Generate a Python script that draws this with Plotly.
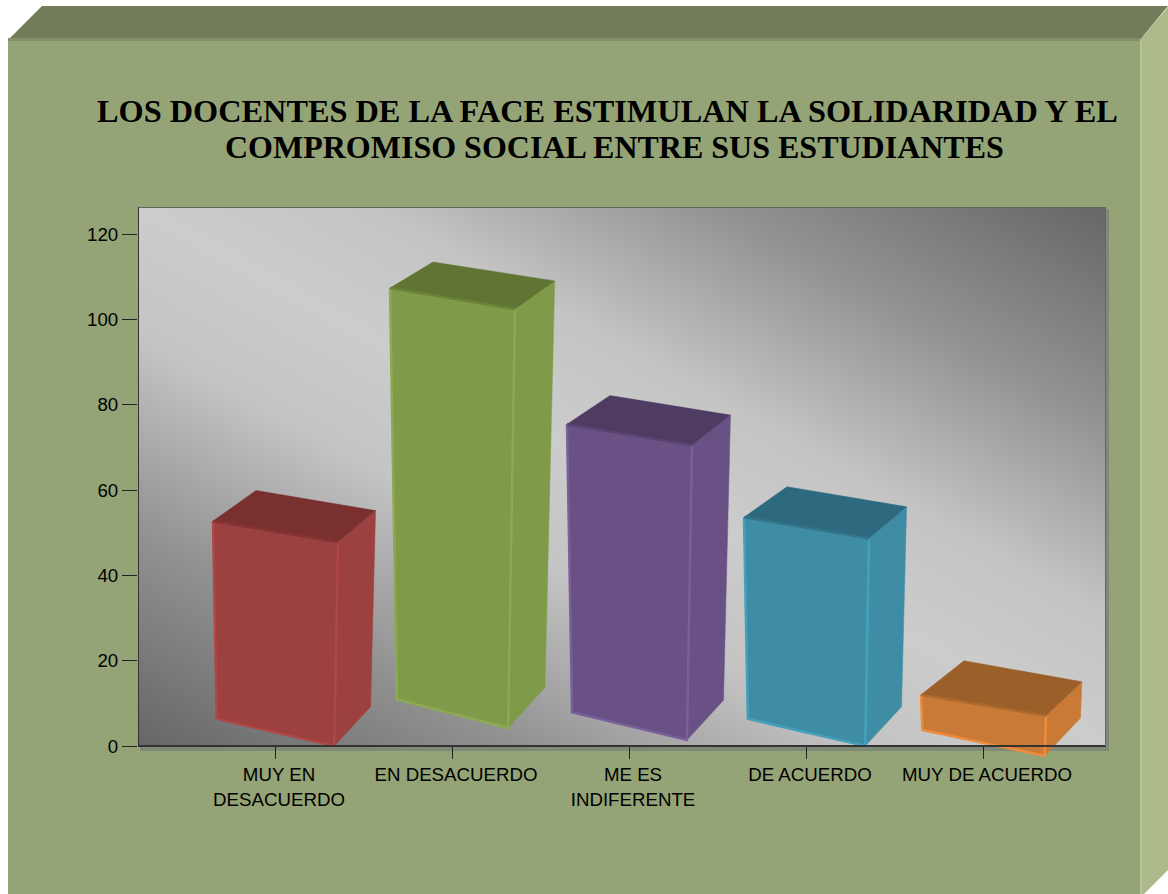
import base64
import plotly.graph_objects as go

# ---- data ----
categories = ["MUY EN<br>DESACUERDO", "EN DESACUERDO", "ME ES<br>INDIFERENTE", "DE ACUERDO", "MUY DE ACUERDO"]
values = [47.8, 98.2, 69.1, 48.7, 9.4]          # column height
floor_shift = [0.0, 4.2, 1.4, 0.0, -2.3]        # apparent lift of each column's foot in the tilted view
y_ticks = [0, 20, 40, 60, 80, 100, 120]
front_colors = ["#9C413F", "#7F9A48", "#695185", "#3F8CA5", "#C97A37"]
edge_colors = ["#AE4846", "#8DAA50", "#7A5F9A", "#45A0BC", "#EE8B3C"]
top_colors = ["#79302E", "#607433", "#4F3C63", "#2E6A7F", "#9B5F2A"]
lip_colors = ["#843533", "#6C823B", "#5A446F", "#337488", "#AD6A2E"]
title_lines = ["LOS DOCENTES DE LA FACE ESTIMULAN LA SOLIDARIDAD Y EL",
               "COMPROMISO SOCIAL ENTRE SUS ESTUDIANTES"]

W, H = 1168, 894
L, R, T, B = 138, 1106, 207, 746
EXTRA = 14      # plot area runs a little below zero so the lowest foot is not clipped
XU = 177.0      # px per category
YU = (746 - 234) / 120.0   # px per value unit
X0 = -(275 - L) / XU
X1 = X0 + (R - L) / XU
Y1 = (B - T) / YU
YLOW = -EXTRA / YU
PH = B + EXTRA - T


def px(p):
    return p / XU


def py(p):
    return p / YU


fig = go.Figure()


def face(xs, ys, fill, line=None, width=0):
    fig.add_trace(go.Scatter(
        x=xs + xs[:1], y=ys + ys[:1], mode="lines", fill="toself", fillcolor=fill,
        line=dict(color=line or fill, width=width if width else 0.5),
        hoverinfo="skip", showlegend=False))


def edge(xs, ys, color, width):
    fig.add_trace(go.Scatter(
        x=xs, y=ys, mode="lines", line=dict(color=color, width=width),
        hoverinfo="skip", showlegend=False))


for i, v in enumerate(values):
    base = floor_shift[i]
    top = base + v
    h = v * YU
    inset = 0.0145 * h + 0.3
    # column corners, from the value and the view tilt
    ftl = (i + px(-62), top + py(21))
    ftr = (i + px(63), top)
    fbr = (i + px(63 - inset - 0.5), base)
    fbl = (i + px(-62 + inset + 0.5), base + py(25.5 + 0.008 * h))
    btr = (i + px(98.5 + 0.01 * h), top + py(34.5 - 0.015 * h))
    btl = (i + px(-19), ftl[1] + py(34.8 - 0.021 * h))
    bbr = (i + px(98 - 0.012 * h), base + py(37.5 + 0.008 * h))
    face([ftr[0], btr[0], bbr[0], fbr[0]], [ftr[1], btr[1], bbr[1], fbr[1]], front_colors[i])
    face([ftl[0], ftr[0], fbr[0], fbl[0]], [ftl[1], ftr[1], fbr[1], fbl[1]], front_colors[i])
    face([ftl[0], btl[0], btr[0], ftr[0]], [ftl[1], btl[1], btr[1], ftr[1]], top_colors[i])
    edge([ftl[0], fbl[0], fbr[0], ftr[0]], [ftl[1], fbl[1], fbr[1], ftr[1]], edge_colors[i], 2.5)
    edge([ftl[0], ftr[0]], [ftl[1], ftr[1]], lip_colors[i], 2.5)

svg = ('<svg xmlns="http://www.w3.org/2000/svg" width="968" height="539" viewBox="0 0 968 539" '
       'preserveAspectRatio="none"><defs><linearGradient id="g" x1="1" y1="0" x2="0" y2="1">'
       '<stop offset="0" stop-color="#666666"/><stop offset="0.2" stop-color="#929292"/>'
       '<stop offset="0.38" stop-color="#c4c4c4"/><stop offset="0.5" stop-color="#cccccc"/>'
       '<stop offset="0.62" stop-color="#c4c4c4"/><stop offset="0.8" stop-color="#929292"/>'
       '<stop offset="1" stop-color="#666666"/></linearGradient></defs>'
       '<rect width="968" height="539" fill="url(#g)"/></svg>')
src = "data:image/svg+xml;base64," + base64.b64encode(svg.encode()).decode()


def xp(p):
    return (p - L) / (R - L)


def yp(p):
    return (B + EXTRA - p) / PH


def poly(points, color):
    d = "M " + " L ".join(f"{xp(a)} {yp(b)}" for a, b in points) + " Z"
    return dict(type="path", path=d, xref="paper", yref="paper", fillcolor=color,
                line=dict(width=0), layer="below")


shapes = [
    poly([(8, 40), (42, 6), (1168, 6), (1140, 40)], "#717D5B"),
    poly([(1140, 40), (1168, 7), (1168, 870), (1144, 894), (1140, 894)], "#ABBA88"),
    poly([(8, 40), (1140, 40), (1140, 894), (8, 894)], "#94A476"),
    poly([(1140, 40), (1142, 40), (1142, 894), (1140, 894)], "#B4C492"),
    poly([(8, 38), (1140, 38), (1140, 41), (8, 41)], "#858F6C"),
    poly([(140, 746), (1109, 746), (1109, 751), (140, 751)], "#808878"),
    poly([(1106, 209), (1109, 209), (1109, 751), (1106, 751)], "#808878"),
    dict(type="line", xref="x", yref="y", x0=X0, x1=X1, y0=Y1, y1=Y1,
         line=dict(color="#666666", width=2), layer="above"),
    dict(type="line", xref="x", yref="y", x0=X1, x1=X1, y0=0, y1=Y1,
         line=dict(color="#666666", width=2), layer="above"),
    dict(type="line", xref="x", yref="y", x0=X0, x1=X0, y0=0, y1=Y1,
         line=dict(color="#333333", width=2), layer="above"),
]

fig.update_layout(
    width=W, height=H, autosize=False,
    margin=dict(l=L, r=W - R, t=T, b=H - B - EXTRA, pad=0),
    paper_bgcolor="white", plot_bgcolor="rgba(0,0,0,0)",
    showlegend=False,
    title=dict(text="<b>" + title_lines[0] + "</b>", x=xp(607.5), xanchor="center",
               y=1 - 111 / H, yanchor="middle", xref="paper",
               font=dict(family="Liberation Serif", size=32.3, color="black")),
    annotations=[dict(text="<b>" + title_lines[1] + "</b>", x=xp(614), y=yp(147),
                      xref="paper", yref="paper", showarrow=False, xanchor="center", yanchor="middle",
                      font=dict(family="Liberation Serif", size=32, color="black"))],
    xaxis=dict(range=[X0, X1], tickmode="array", tickvals=list(range(len(categories))),
               ticktext=categories, ticks="outside", ticklen=12, tickwidth=1, tickcolor="#222",
               tickfont=dict(family="Liberation Sans", size=18.7, color="black"),
               ticklabelshift=4, showgrid=False, zeroline=False, showline=True, linecolor="#333333",
               linewidth=2, fixedrange=True, anchor="free", position=EXTRA / PH),
    yaxis=dict(range=[YLOW, Y1], tickmode="array", tickvals=y_ticks, ticks="outside", ticklen=15,
               tickwidth=1, tickcolor="#222",
               tickfont=dict(family="Liberation Sans", size=18.7, color="black"),
               showgrid=False, zeroline=False, showline=False, fixedrange=True),
    images=[dict(source=src, xref="x", yref="y", x=X0, y=Y1, sizex=X1 - X0, sizey=Y1,
                 xanchor="left", yanchor="top", sizing="stretch", layer="below")],
    shapes=shapes,
)
fig.write_html("out.html", config={"displayModeBar": False},
               post_script="document.body.style.margin='0';document.documentElement.style.overflow='hidden';")
